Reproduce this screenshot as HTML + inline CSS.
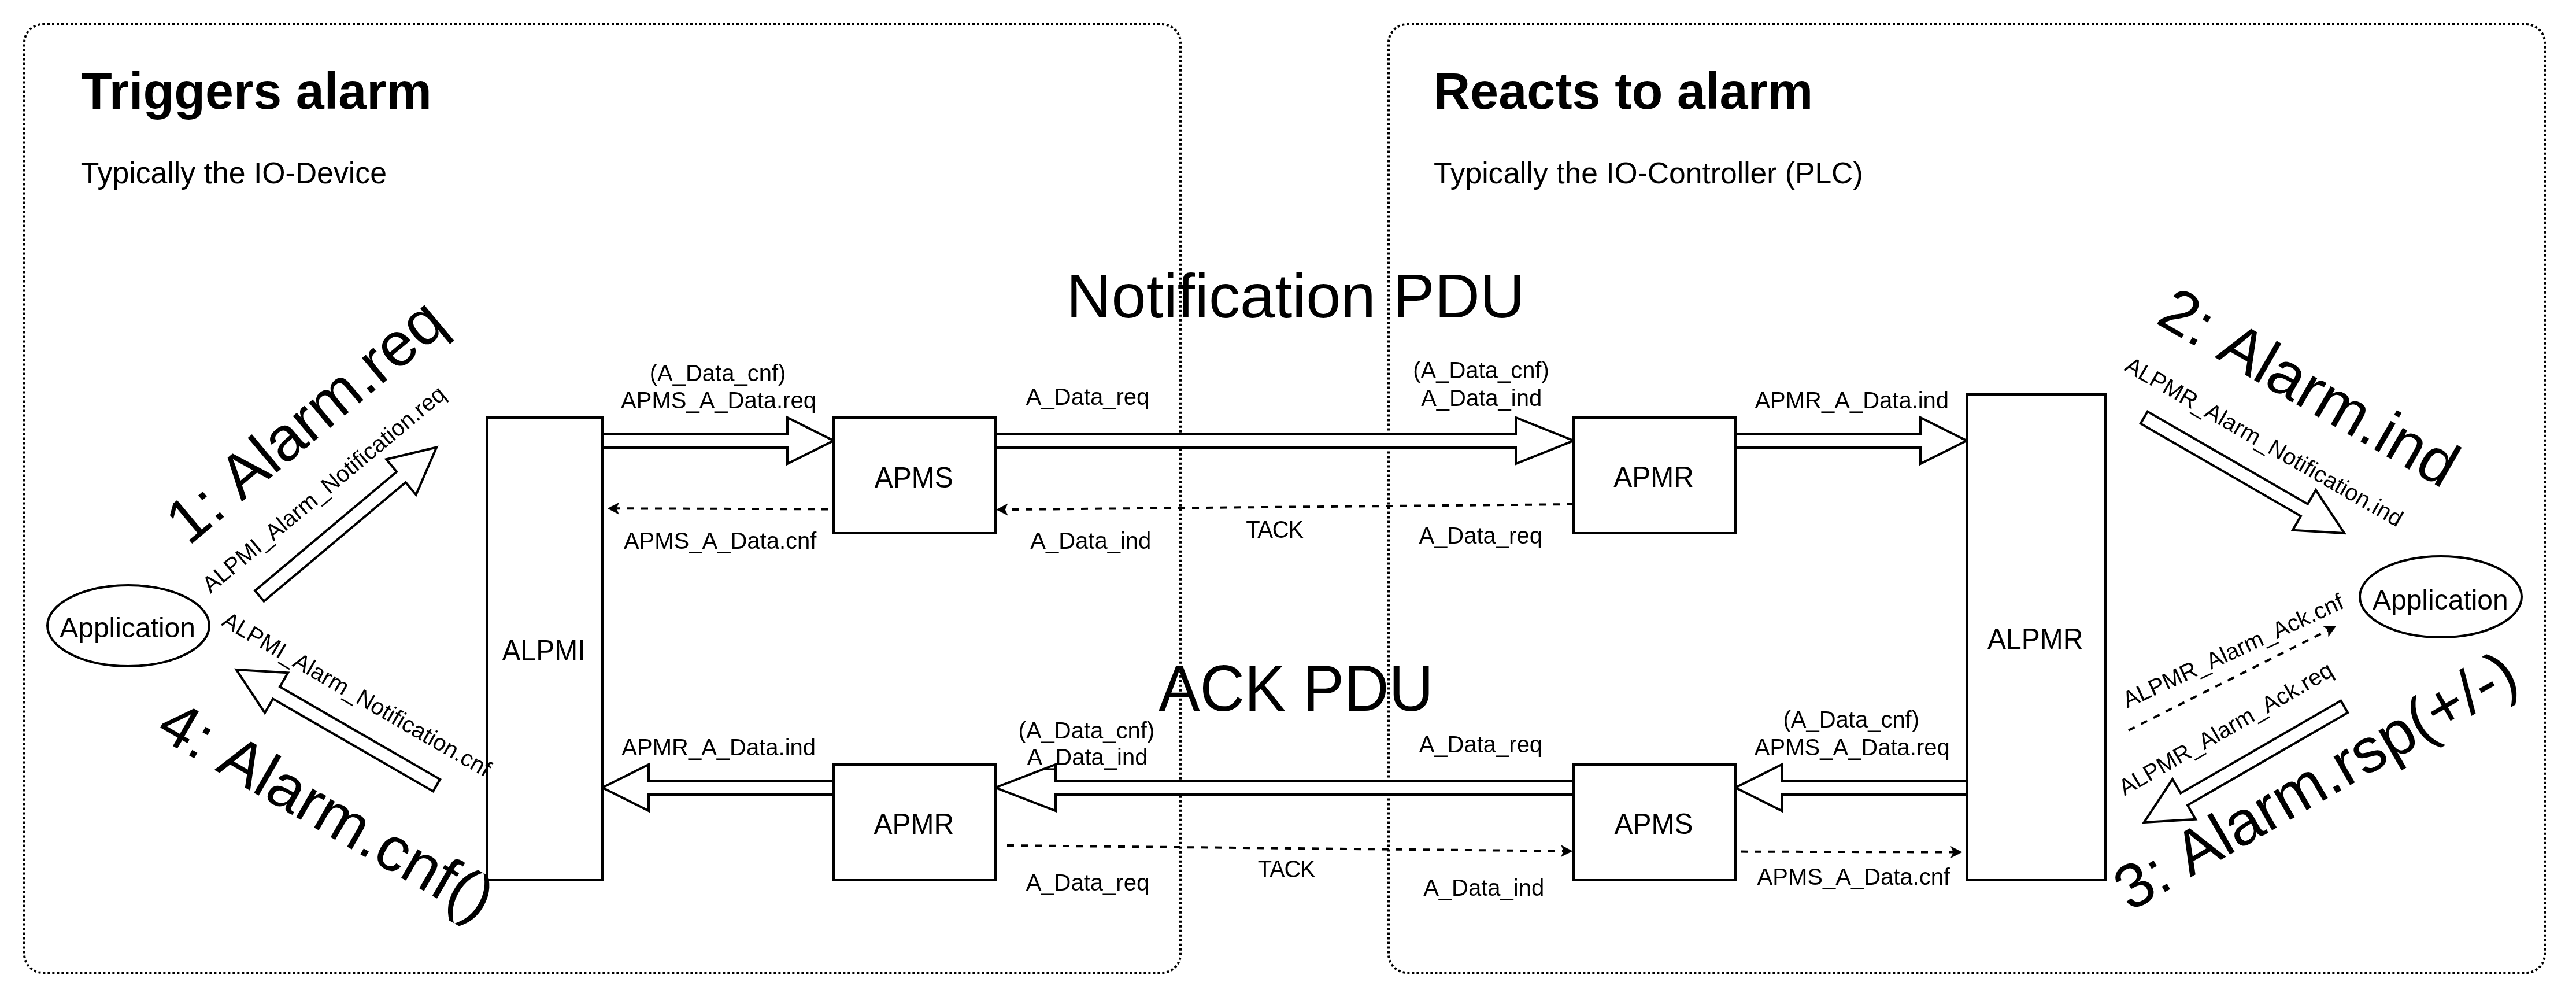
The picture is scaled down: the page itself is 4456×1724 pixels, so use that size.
<!DOCTYPE html>
<html><head><meta charset="utf-8">
<style>
html,body{margin:0;padding:0;background:#fff;width:4456px;height:1724px;overflow:hidden}
svg{display:block;font-family:"Liberation Sans",sans-serif;will-change:transform}
</style></head>
<body>
<svg width="4456" height="1724" viewBox="0 0 4456 1724">
<g fill="#000">
<text x="139.92" y="188.3" font-size="88.05" font-weight="bold" >Triggers alarm</text>
<text x="139.76" y="317.4" font-size="51.75" >Typically the IO-Device</text>
<text x="2479.43" y="188.3" font-size="88.19" font-weight="bold" >Reacts to alarm</text>
<text x="2479.97" y="316.9" font-size="51.60" >Typically the IO-Controller (PLC)</text>
<text x="1844.45" y="548.6" font-size="108.18" >Notification PDU</text>
<text transform="translate(2004.20,1229.4) scale(1,1.055)" font-size="106.96" >ACK PDU</text>
</g>
<g fill="none" stroke="#000" stroke-width="4" stroke-dasharray="4 4">
<rect x="42" y="42" width="2000" height="1640" rx="32" ry="32"/>
<rect x="2402" y="42" width="2000" height="1640" rx="32" ry="32"/>
</g>
<g fill="#fff" stroke="#000" stroke-width="4" stroke-miterlimit="10">
<path d="M1042 750 H1362 V722 L1442 762 L1362 802 V774 H1042 Z"/>
<path d="M1722 750 H2622 V722 L2722 762 L2622 802 V774 H1722 Z"/>
<path d="M3002 750 H3322 V722 L3402 762 L3322 802 V774 H3002 Z"/>
<path d="M3402 1350 H3082 V1322 L3002 1362 L3082 1402 V1374 H3402 Z"/>
<path d="M2722 1350 H1826 V1322 L1722 1362 L1826 1402 V1374 H2722 Z"/>
<path d="M1442 1350 H1122 V1322 L1042 1362 L1122 1402 V1374 H1442 Z"/>
<g transform="translate(602,902) rotate(-40)"><path d="M-200 -12 H120 V-40 L200 0 L120 40 V12 H-200 Z"/></g>
<g transform="translate(582,1258) rotate(210)"><path d="M-200 -12 H120 V-40 L200 0 L120 40 V12 H-200 Z"/></g>
<g transform="translate(3882,822) rotate(30)"><path d="M-200 -12 H120 V-40 L200 0 L120 40 V12 H-200 Z"/></g>
<g transform="translate(3882,1322) rotate(150)"><path d="M-200 -12 H120 V-40 L200 0 L120 40 V12 H-200 Z"/></g>
</g>
<g fill="none" stroke="#000" stroke-width="4" stroke-dasharray="12 12">
<path d="M1457 880.5 L1066.10 879.25"/>
<path d="M2722 872 L1738.50 881.16"/>
<path d="M1742 1462 L2705.00 1471.65"/>
<path d="M3011 1472.6 L3379.00 1473.56"/>
<path d="M3682 1262.8 L4027.29 1089.72"/>
</g>
<g><path d="M1051.10 879.20 L1070.63 869.26 L1066.10 879.25 L1070.57 889.26 Z" fill="#000" stroke="#000" stroke-width="0.5"/><path d="M1723.50 881.30 L1742.91 871.12 L1738.50 881.16 L1743.09 891.12 Z" fill="#000" stroke="#000" stroke-width="0.5"/><path d="M2720.00 1471.80 L2700.40 1481.60 L2705.00 1471.65 L2700.60 1461.61 Z" fill="#000" stroke="#000" stroke-width="0.5"/><path d="M3394.00 1473.60 L3374.47 1483.55 L3379.00 1473.56 L3374.53 1463.55 Z" fill="#000" stroke="#000" stroke-width="0.5"/><path d="M4040.70 1083.00 L4027.75 1100.68 L4027.29 1089.72 L4018.79 1082.80 Z" fill="#000" stroke="#000" stroke-width="0.5"/></g>
<g fill="#fff" stroke="#000" stroke-width="4">
<rect x="842" y="722" width="200" height="800"/>
<rect x="1442" y="722" width="280" height="200"/>
<rect x="2722" y="722" width="280" height="200"/>
<rect x="1442" y="1322" width="280" height="200"/>
<rect x="2722" y="1322" width="280" height="200"/>
<rect x="3402" y="682" width="240" height="840"/>
<ellipse cx="222" cy="1082" rx="140" ry="70"/>
<ellipse cx="4222" cy="1032" rx="140" ry="70"/>
</g>
<g fill="#000">
<text transform="translate(868.56,1141.8) scale(1,1.055)" font-size="48.00" >ALPMI</text>
<text transform="translate(1512.84,842.6) scale(1,1.055)" font-size="48.00" >APMS</text>
<text transform="translate(2791.34,841.7) scale(1,1.055)" font-size="48.00" >APMR</text>
<text transform="translate(1511.59,1442) scale(1,1.055)" font-size="48.00" >APMR</text>
<text transform="translate(2792.54,1441.7) scale(1,1.055)" font-size="48.00" >APMS</text>
<text transform="translate(3438.09,1121.7) scale(1,1.055)" font-size="48.00" >ALPMR</text>
<text x="103.18" y="1101.9" font-size="48.00" >Application</text>
<text x="4103.93" y="1053.7" font-size="48.00" >Application</text>
<text x="1123.70" y="659" font-size="40.00" >(A_Data_cnf)</text>
<text x="1074.05" y="705.6" font-size="40.00" >APMS_A_Data.req</text>
<text x="1774.85" y="700" font-size="40.00" >A_Data_req</text>
<text x="1078.95" y="949.4" font-size="40.00" >APMS_A_Data.cnf</text>
<text x="1782.30" y="949.4" font-size="40.00" >A_Data_ind</text>
<text x="2444.15" y="654.3" font-size="40.00" >(A_Data_cnf)</text>
<text x="2458.20" y="701.7" font-size="40.00" >A_Data_ind</text>
<text x="2454.45" y="939.7" font-size="40.00" >A_Data_req</text>
<text x="3035.40" y="706" font-size="40.00" >APMR_A_Data.ind</text>
<text x="1075.35" y="1305.6" font-size="40.00" >APMR_A_Data.ind</text>
<text x="1761.60" y="1276.5" font-size="40.00" >(A_Data_cnf)</text>
<text x="1776.45" y="1323.2" font-size="40.00" >A_Data_ind</text>
<text x="1774.70" y="1539.8" font-size="40.00" >A_Data_req</text>
<text x="2454.65" y="1300.6" font-size="40.00" >A_Data_req</text>
<text x="2462.15" y="1548.8" font-size="40.00" >A_Data_ind</text>
<text x="3084.40" y="1258" font-size="40.00" >(A_Data_cnf)</text>
<text x="3034.80" y="1305.6" font-size="40.00" >APMS_A_Data.req</text>
<text x="3039.60" y="1529.8" font-size="40.00" >APMS_A_Data.cnf</text>
<text transform="translate(2155.20,930) scale(1,1.055)" font-size="40.00" letter-spacing="-1.3">TACK</text>
<text transform="translate(2175.85,1517.2) scale(1,1.055)" font-size="40.00" letter-spacing="-1.3">TACK</text>
</g>
<g fill="#000" style="font-kerning:none">
<text transform="translate(326.11,945.28) rotate(-40.0)" font-size="108">1: Alarm.req</text>
<text transform="translate(3726.47,557.42) rotate(30.0)" font-size="108">2: Alarm.ind</text>
<text transform="translate(3684.58,1577.6) rotate(-30.0)" font-size="108">3: Alarm.rsp(+/-)</text>
<text transform="translate(266.54,1271.18) rotate(30.0)" font-size="108">4: Alarm.cnf()</text>
<text transform="translate(363.9,1027.1) rotate(-39.8)" font-size="39.8">ALPMI_Alarm_Notification.req</text>
<text transform="translate(381.4,1080.3) rotate(30.0)" font-size="39.8">ALPMI_Alarm_Notification.cnf</text>
<text transform="translate(3673.0,639.6) rotate(29.9)" font-size="39.8">ALPMR_Alarm_Notification.ind</text>
<text transform="translate(3679.7,1224.8) rotate(-24.8)" font-size="39.8">ALPMR_Alarm_Ack.cnf</text>
<text transform="translate(3675.1,1376.8) rotate(-30.0)" font-size="39.8">ALPMR_Alarm_Ack.req</text>
</g>
</svg>
</body></html>
